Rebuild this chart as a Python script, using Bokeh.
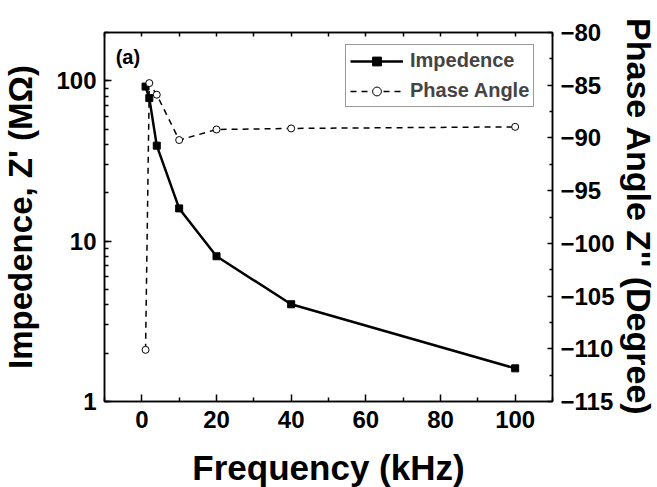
from bokeh.plotting import figure
from bokeh.models import (Range1d, LinearAxis, Legend, LegendItem, Label, FixedTicker,
                          LinearScale, PrintfTickFormatter)
from bokeh.embed import file_html
from bokeh.resources import INLINE

# Data
freq_khz = [1, 2, 4, 10, 20, 40, 100]
impedance_mohm = [92, 78, 39.4, 16, 8.05, 4.04, 1.61]
phase_freq_khz = [1, 2, 4, 10, 20, 40, 100]
phase_deg = [-110.1, -84.8, -85.9, -90.2, -89.2, -89.1, -88.95]

x_ticks = [0, 20, 40, 60, 80, 100]
x_minor = [-10, 10, 30, 50, 70, 90, 110]
phase_ticks = [-115, -110, -105, -100, -95, -90, -85, -80]
phase_minor = [-112.5, -107.5, -102.5, -97.5, -92.5, -87.5, -82.5]

FONT = "Liberation Sans"

p = figure(frame_width=448, frame_height=369, y_axis_type="log",
           x_range=Range1d(-10, 110), y_range=Range1d(1, 200),
           output_backend="svg", toolbar_location=None,
           min_border_left=96, min_border_right=97,
           min_border_top=24, min_border_bottom=70)
p.margin = (8, -12, -20, -1)
p.extra_y_ranges = {"phase": Range1d(-115, -80)}
p.extra_y_scales = {"phase": LinearScale()}

p.xgrid.visible = False
p.ygrid.visible = False
p.outline_line_color = "black"
p.outline_line_width = 1.5
p.background_fill_color = "white"
p.border_fill_color = "white"

# Impedance series
imp_line = p.line(freq_khz, impedance_mohm, line_color="black", line_width=2.5)
imp_pts = p.scatter(freq_khz, impedance_mohm, marker="square", size=7,
                    fill_color="black", line_color="black")

# Phase series
ph_line = p.line(phase_freq_khz, phase_deg, y_range_name="phase",
                 line_color="black", line_width=1.5, line_dash="6 5")
ph_pts = p.scatter(phase_freq_khz, phase_deg, y_range_name="phase", marker="circle",
                   size=7, fill_color="white", line_color="black", line_width=1)

def style_axis(ax, label_size="24px"):
    ax.axis_line_color = "black"
    ax.axis_line_width = 1.5
    ax.major_tick_line_color = "black"
    ax.minor_tick_line_color = "black"
    ax.major_tick_line_width = 1.5
    ax.minor_tick_line_width = 1.5
    ax.major_tick_in = 7
    ax.major_tick_out = 0
    ax.minor_tick_in = 4
    ax.minor_tick_out = 0
    ax.major_label_text_font = FONT
    ax.major_label_text_font_style = "bold"
    ax.major_label_text_font_size = label_size
    ax.major_label_text_color = "black"
    ax.axis_label_text_font = FONT
    ax.axis_label_text_font_style = "bold"
    ax.axis_label_text_color = "black"

xa = p.xaxis[0]
xa.ticker = FixedTicker(ticks=x_ticks, minor_ticks=x_minor)
style_axis(xa)
xa.axis_label = "Frequency (kHz)"
xa.axis_label_text_font_size = "35px"
xa.major_label_standoff = 9
xa.axis_label_standoff = 17

ya = p.yaxis[0]
style_axis(ya)
ya.formatter = PrintfTickFormatter(format="%d")
ya.axis_label = "Impedence, Z' (M\u03a9)"
ya.axis_label_text_font_size = "33px"
ya.major_label_standoff = 8
ya.axis_label_standoff = 14

ra = LinearAxis(y_range_name="phase",
                ticker=FixedTicker(ticks=phase_ticks, minor_ticks=phase_minor))
style_axis(ra)
ra.major_tick_in = 5
ra.minor_tick_in = 3
ra.axis_label = "Phase Angle Z'' (Degree)"
ra.axis_label_text_font_size = "34px"
ra.major_label_standoff = 8
ra.axis_label_standoff = 2
p.add_layout(ra, "right")

ta = LinearAxis(ticker=FixedTicker(ticks=x_ticks, minor_ticks=x_minor))
style_axis(ta)
ta.major_tick_in = 4
ta.minor_tick_in = 4
ta.major_label_text_font_size = "1px"
ta.major_label_text_color = None
ta.major_label_standoff = 0
p.add_layout(ta, "above")

legend = Legend(items=[
    LegendItem(label="Impedence", renderers=[imp_line, imp_pts]),
    LegendItem(label="Phase Angle", renderers=[ph_line, ph_pts]),
], location=(241, 294))
legend.label_text_font = FONT
legend.label_text_font_style = "bold"
legend.label_text_font_size = "20px"
legend.glyph_width = 53
legend.glyph_height = 22
legend.label_height = 22
legend.label_standoff = 7
legend.padding = 4
legend.spacing = 7
legend.margin = 0
legend.border_line_color = "#333333"
legend.border_line_width = 1
legend.background_fill_color = "white"
legend.background_fill_alpha = 1
p.add_layout(legend, "center")

p.add_layout(Label(x=-7.0, y=140, text="(a)", text_font=FONT, text_font_style="bold",
                   text_font_size="20px", text_baseline="middle", text_color="black"))

open("out.html", "w").write(file_html(p, INLINE))
